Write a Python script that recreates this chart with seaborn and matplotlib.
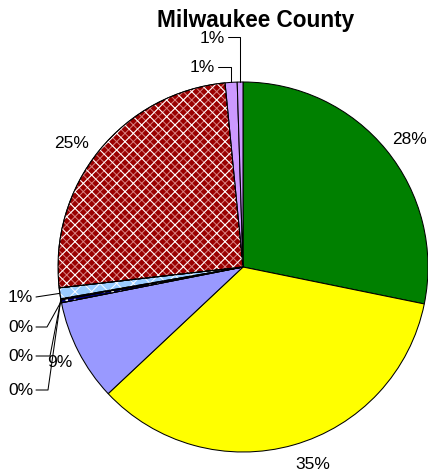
import numpy as np
import matplotlib
matplotlib.use("Agg")
import matplotlib.pyplot as plt
import seaborn as sns

# slice data, clockwise from 12 o'clock
shares = [28.2, 34.8, 8.9, 0.25, 0.05, 0.05, 0.95, 25.25, 1.05, 0.5]
pct_labels = ["28%", "35%", "9%", "0%", "0%", "0%", "1%", "25%", "1%", "1%"]
colors = ["#008000", "#FFFF00", "#9999FF", "#000080", "#FFFFFF", "#FFFFFF",
          "#99CCFF", "#990000", "#CC99FF", "#CC99FF"]
hatches = [None, None, None, "..", None, None, "xx", "xx", None, None]
title = "Milwaukee County"

# slices with a plain label, and a small nudge (px) for each of them
big = {0: (-4, -3), 1: (-2, 6), 2: (5, 4), 7: (0, 0)}

sns.set_theme(style="white")
plt.rcParams["font.family"] = ["Liberation Sans", "DejaVu Sans"]
plt.rcParams["hatch.linewidth"] = 0.7

W, H = 428, 477
cx, cy, R = 243, 268, 185
fig = plt.figure(figsize=(W / 100, H / 100), dpi=100)
ax = fig.add_axes([(cx - R) / W, (H - cy - R) / H, 2 * R / W, 2 * R / H])

labels = [pct_labels[i] if i in big else "" for i in range(len(shares))]
wedges, texts = ax.pie(shares, colors=colors, startangle=90, counterclock=False,
                       labels=labels, labeldistance=1.07,
                       wedgeprops=dict(edgecolor="black", linewidth=0.75),
                       textprops=dict(fontsize=12.5, color="black"))

for i, (dx, dy) in big.items():
    x, y = texts[i].get_position()
    texts[i].set_position((x + dx / R, y - dy / R))

# pattern drawn on top of some slices (fine pink grid on the red one, then white)
for i, (w, h) in enumerate(zip(wedges, hatches)):
    if not h:
        continue
    layers = [("#D88080", "xxxx"), ("white", h)] if i == 7 else [("white", h)]
    z = w.get_zorder()
    for k, (hc, hp) in enumerate(layers):
        ov = matplotlib.patches.Wedge(w.center, w.r, w.theta1, w.theta2,
                                      facecolor="none", edgecolor=hc,
                                      linewidth=0, hatch=hp, zorder=z + 0.01 * (k + 1))
        ax.add_patch(ov)
    edge = matplotlib.patches.Wedge(w.center, w.r, w.theta1, w.theta2,
                                    facecolor="none", edgecolor="black",
                                    linewidth=0.75, zorder=z + 0.05)
    ax.add_patch(edge)

ax.set_xlim(-1, 1)
ax.set_ylim(-1, 1)
ax.set_aspect("equal")


def px(x, y):
    # pixel position -> data coords of the pie axes
    return (x - cx) / R, (cy - y) / R


def rim(i):
    w = wedges[i]
    a = np.deg2rad((w.theta1 + w.theta2) / 2)
    return np.cos(a), np.sin(a)


# leader-line labels: (slice, text right edge, text y, elbow)
leaders = [
    (6, 33, 298, None),
    (3, 33, 328, 47),
    (4, 33, 357, 50),
    (5, 33, 391, 48),
    (8, 215, 68, "v"),
    (9, 225, 38, "v"),
]
for i, tx, ty, elbow in leaders:
    x0, y0 = px(tx + 3, ty)
    rx, ry = rim(i)
    if elbow is None:
        xs, ys = [x0, rx], [y0, ry]
    elif elbow == "v":
        xs, ys = [x0, rx, rx], [y0, y0, ry]
    else:
        ex, _ = px(elbow, ty)
        xs, ys = [x0, ex, rx], [y0, y0, ry]
    ax.plot(xs, ys, color="black", lw=0.75, clip_on=False, zorder=5)
    lx, ly = px(tx, ty)
    ax.text(lx, ly, pct_labels[i], ha="right", va="center", fontsize=12.5,
            color="black", clip_on=False)

fig.text(256 / W, 1 - 20 / H, title, ha="center", va="center",
         fontsize=16.3, fontweight="bold", color="black")

fig.savefig("out.png", dpi=100, facecolor="white")
